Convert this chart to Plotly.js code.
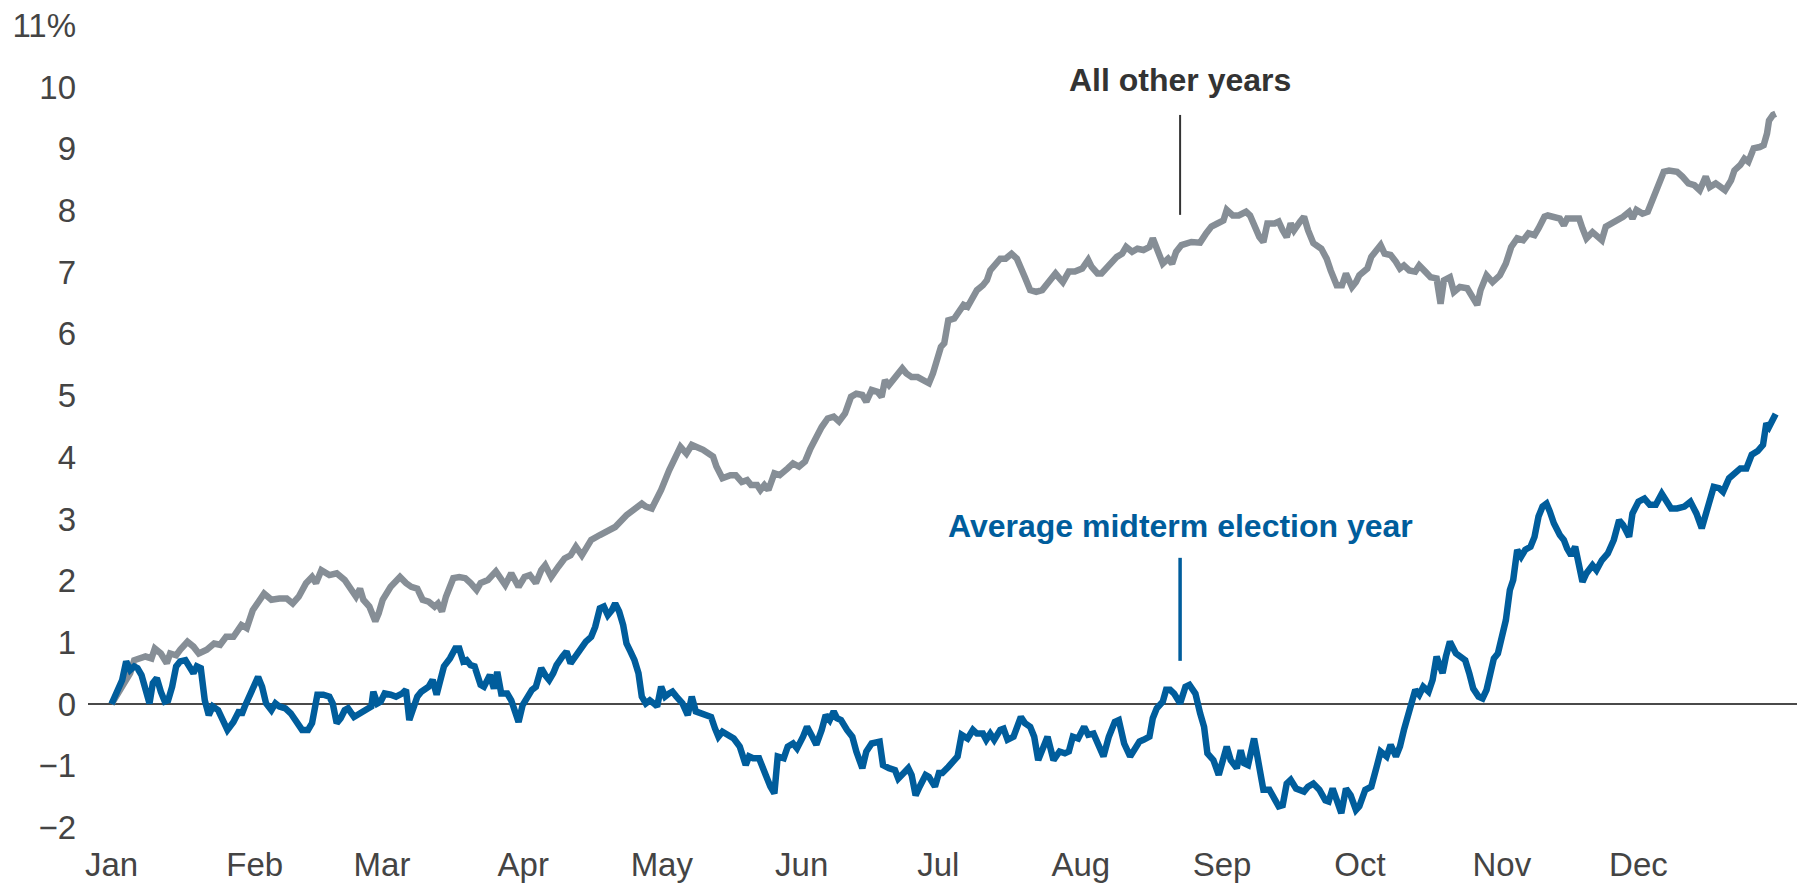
<!DOCTYPE html>
<html>
<head>
<meta charset="utf-8">
<script src="https://cdn.plot.ly/plotly-3.0.1.min.js"></script>
<style>
  html, body { margin: 0; padding: 0; background: #fff; }
  #chart { width: 1803px; height: 886px; }
</style>
</head>
<body>
<div id="chart"></div>
<script>
// Trading-day index (x) and cumulative return in % (y)
const otherDays = [0,1.65,2.8,3.4,5.1,6.0,6.5,7.4,8.3,8.8,9.7,10.3,11.4,12.3,13.1,14.3,15.4,16.3,17.2,18.3,19.5,20.3,21.2,22.9,24.0,25.2,26.3,27.2,28.1,29.2,30.1,30.7,31.5,32.7,33.8,35.0,35.8,36.7,37.3,37.8,38.7,39.6,40.1,40.7,41.9,43.3,44.2,45.0,45.9,46.7,47.6,48.5,49.0,49.6,50.2,51.3,52.2,53.1,53.9,54.8,55.4,56.5,57.7,58.5,59.1,60.0,61.1,62.0,62.8,63.7,64.5,65.1,66.0,67.1,68.0,68.9,69.7,70.6,72.0,73.3,75.6,77.3,79.6,80.2,81.1,82.5,83.7,85.4,86.3,87.1,88.8,90.3,90.8,91.7,92.9,93.7,94.6,95.4,96.0,96.9,97.4,98.0,98.6,99.5,100.3,101.5,102.3,103.2,104.1,104.9,105.8,106.6,107.5,108.4,109.2,110.1,111.0,111.8,112.7,113.3,114.1,115.0,115.6,116.1,116.7,117.6,118.7,119.3,120.1,121.0,121.9,122.7,123.3,123.9,124.5,125.0,125.3,125.6,126.5,127.3,127.9,128.5,129.3,129.9,130.8,131.4,131.9,132.8,133.4,134.2,135.1,135.9,136.5,137.1,137.9,138.8,139.7,140.8,141.7,142.3,142.8,143.7,144.6,145.7,146.6,147.1,148.0,148.6,149.7,150.9,151.7,152.3,153.2,154.0,154.9,155.8,156.3,156.9,157.8,158.6,159.2,159.8,160.6,162.1,163.4,164.3,165.1,166.0,166.9,167.4,168.3,169.2,170.3,170.9,171.5,172.3,172.9,173.5,174.6,175.2,175.8,176.4,177.0,177.5,178.4,179.0,179.6,180.4,181.6,182.4,183.0,183.9,184.7,185.3,186.2,186.8,187.3,188.5,189.1,189.7,190.5,191.1,192.0,192.8,193.4,194.0,194.8,195.7,196.3,197.2,198.0,198.9,199.5,200.0,200.9,201.5,202.4,203.5,204.4,205.0,205.5,206.4,207.3,208.4,209.3,210.1,211.0,211.9,212.7,213.6,214.2,215.1,215.6,216.5,217.4,218.0,218.5,219.4,220.3,220.8,221.4,222.3,223.1,223.7,224.3,225.2,226.0,226.9,227.8,228.3,228.9,229.8,230.6,231.5,232.4,233.0,233.8,235.0,235.8,236.7,237.6,238.4,239.3,239.9,240.8,241.6,242.2,243.1,243.6,244.5,245.1,245.7,246.5,247.4,248.0,248.5,248.8,249.4,249.8];
const otherVals = [0,0.28,0.50,0.71,0.77,0.74,0.90,0.82,0.66,0.82,0.79,0.88,1.01,0.93,0.82,0.88,0.98,0.96,1.09,1.09,1.28,1.23,1.52,1.79,1.69,1.71,1.71,1.63,1.74,1.96,2.06,1.96,2.17,2.09,2.12,2.01,1.90,1.74,1.87,1.69,1.58,1.34,1.47,1.69,1.90,2.06,1.96,1.90,1.87,1.69,1.66,1.58,1.63,1.50,1.74,2.04,2.06,2.04,1.96,1.85,1.96,2.01,2.15,2.01,1.93,2.12,1.90,2.06,2.09,1.96,2.17,2.25,2.06,2.23,2.36,2.41,2.55,2.41,2.66,2.74,2.87,3.06,3.25,3.20,3.17,3.47,3.79,4.17,4.06,4.20,4.12,4.01,3.85,3.66,3.71,3.71,3.60,3.63,3.55,3.55,3.47,3.55,3.47,3.74,3.71,3.82,3.90,3.85,3.93,4.14,4.35,4.49,4.63,4.66,4.58,4.71,4.98,5.03,5.01,4.90,5.09,5.06,4.98,5.25,5.17,5.28,5.44,5.36,5.30,5.30,5.25,5.20,5.36,5.63,5.79,5.85,6.01,6.22,6.25,6.36,6.47,6.44,6.57,6.71,6.79,6.87,7.03,7.17,7.22,7.22,7.30,7.22,7.09,6.92,6.71,6.68,6.71,6.87,6.98,6.90,6.84,7.01,7.01,7.06,7.20,7.09,6.98,6.98,7.11,7.25,7.30,7.41,7.33,7.38,7.36,7.41,7.55,7.38,7.14,7.22,7.14,7.33,7.44,7.49,7.48,7.63,7.74,7.79,7.84,8.01,7.92,7.92,7.98,7.92,7.74,7.57,7.49,7.79,7.79,7.82,7.68,7.57,7.79,7.68,7.82,7.90,7.68,7.47,7.38,7.22,7.03,6.79,6.79,6.98,6.76,6.84,6.95,7.06,7.25,7.33,7.44,7.30,7.28,7.17,7.06,7.11,7.03,7.01,7.11,7.01,6.92,6.90,6.49,6.87,6.92,6.68,6.76,6.74,6.57,6.47,6.71,6.95,6.84,6.95,7.14,7.41,7.55,7.52,7.63,7.60,7.71,7.90,7.92,7.90,7.87,7.76,7.87,7.87,7.87,7.71,7.55,7.65,7.57,7.52,7.74,7.79,7.84,7.90,7.98,7.87,8.01,7.95,7.98,8.22,8.44,8.63,8.65,8.63,8.55,8.44,8.41,8.33,8.55,8.38,8.44,8.38,8.33,8.49,8.65,8.74,8.84,8.79,9.01,9.03,9.06,9.25,9.46,9.55,9.57];

const midDays = [0,1.1,1.6,2.2,2.8,3.4,3.9,4.5,5.1,5.7,6.2,6.8,7.4,8.0,8.5,9.1,9.7,10.3,11.1,11.7,12.3,12.8,13.4,14.0,14.6,15.2,16.0,17.4,18.3,19.2,19.5,20.0,20.6,21.5,22.0,22.6,23.2,24.0,24.6,25.2,26.1,26.9,27.8,28.6,29.5,30.1,30.9,31.8,32.7,33.2,33.8,34.4,35.0,35.5,36.4,37.3,38.1,39.0,39.3,39.9,40.4,41.0,41.9,42.7,43.6,44.2,44.7,45.3,45.9,46.5,47.0,47.6,48.2,48.8,49.3,49.9,50.8,51.6,52.2,52.8,53.3,53.9,54.5,55.4,55.9,56.8,57.4,57.9,58.5,59.4,60.0,60.5,61.1,61.7,62.2,63.1,63.7,64.5,65.1,65.7,66.3,66.8,67.7,68.3,68.9,69.4,70.3,71.2,72.0,72.6,73.3,73.9,74.5,75.1,75.6,76.2,76.8,77.3,77.9,78.5,79.1,79.6,80.2,80.8,81.4,81.9,82.5,83.1,83.7,84.2,84.8,85.7,86.5,87.1,87.7,88.5,90.0,90.6,91.1,91.7,92.6,93.4,94.3,95.2,95.7,96.3,97.2,98.0,98.9,99.5,100.0,100.9,101.5,102.3,102.9,103.8,104.4,105.2,105.8,106.6,107.2,107.8,108.4,108.9,109.5,110.4,111.2,111.8,112.7,113.3,114.1,115.3,115.8,116.7,117.6,118.1,119.0,119.6,120.1,120.7,121.3,122.2,122.7,123.6,124.2,124.7,125.6,126.5,127.0,127.6,128.5,129.3,129.9,130.8,131.3,131.9,132.5,133.4,133.9,134.5,135.4,136.5,137.1,137.9,138.5,139.1,139.7,140.5,141.4,142.3,143.1,143.7,144.3,145.1,146.0,146.6,147.4,148.0,148.9,149.7,150.6,151.2,152.0,152.9,153.8,154.3,154.9,155.8,156.3,156.9,157.8,158.3,158.9,159.5,160.4,161.2,161.8,162.7,163.4,164.0,164.5,165.4,166.2,166.9,167.4,168.0,168.9,169.5,170.0,170.6,171.5,172.0,172.6,172.9,173.8,174.6,175.2,175.8,176.4,177.0,177.8,179.0,179.6,180.4,181.3,182.2,182.7,183.3,183.9,184.6,185.3,186.0,186.8,187.3,188.2,189.1,189.9,190.5,191.4,192.0,192.8,193.4,194.0,194.6,195.1,195.7,196.3,196.9,197.7,198.3,198.9,199.8,200.3,200.9,201.8,202.4,203.2,203.8,204.4,205.2,205.8,206.4,207.0,207.5,208.1,208.7,209.3,209.9,210.4,211.0,211.6,212.2,213.0,213.6,214.2,214.8,215.4,215.9,216.5,217.4,218.0,218.5,219.1,219.7,220.3,220.8,221.4,222.3,222.9,223.7,224.6,225.5,226.3,226.9,227.8,228.3,229.2,230.1,230.9,231.8,232.7,233.2,234.1,235.0,236.1,237.0,237.9,238.7,239.6,240.5,241.3,241.9,242.8,243.6,244.5,245.4,246.2,247.1,247.9,248.4,248.8,249.8];
const midVals = [0,0.23,0.39,0.69,0.55,0.61,0.58,0.47,0.28,0.01,0.34,0.42,0.20,0.04,0.06,0.28,0.61,0.69,0.71,0.61,0.50,0.61,0.58,0.06,-0.18,-0.04,-0.10,-0.42,-0.29,-0.10,-0.18,-0.04,0.12,0.34,0.44,0.28,0.01,-0.10,0.01,-0.04,-0.07,-0.15,-0.29,-0.42,-0.42,-0.31,0.15,0.15,0.12,0.01,-0.31,-0.23,-0.10,-0.07,-0.21,-0.15,-0.10,-0.04,0.20,0.01,0.04,0.17,0.15,0.12,0.17,0.23,-0.26,-0.10,0.12,0.20,0.25,0.28,0.39,0.15,0.36,0.61,0.74,0.90,0.90,0.69,0.71,0.63,0.61,0.31,0.28,0.47,0.25,0.52,0.17,0.17,0.06,-0.07,-0.29,-0.02,0.09,0.23,0.28,0.58,0.47,0.39,0.50,0.63,0.77,0.85,0.66,0.74,0.85,1.01,1.09,1.25,1.55,1.58,1.44,1.52,1.63,1.50,1.28,0.98,0.85,0.71,0.50,0.12,0.01,0.06,0.01,-0.04,0.28,0.12,0.17,0.20,0.12,0.01,-0.18,0.12,-0.12,-0.15,-0.21,-0.40,-0.53,-0.45,-0.50,-0.56,-0.69,-0.99,-0.85,-0.88,-0.88,-1.12,-1.34,-1.45,-0.85,-0.88,-0.69,-0.64,-0.72,-0.53,-0.37,-0.53,-0.66,-0.42,-0.18,-0.26,-0.12,-0.23,-0.26,-0.42,-0.53,-0.77,-1.04,-0.77,-0.64,-0.61,-0.99,-1.04,-1.07,-1.21,-1.10,-1.04,-1.15,-1.48,-1.34,-1.15,-1.18,-1.34,-1.12,-1.12,-1.02,-0.91,-0.85,-0.50,-0.56,-0.42,-0.48,-0.48,-0.58,-0.48,-0.58,-0.42,-0.40,-0.58,-0.53,-0.21,-0.31,-0.37,-0.53,-0.91,-0.77,-0.53,-0.91,-0.77,-0.80,-0.77,-0.53,-0.56,-0.37,-0.50,-0.48,-0.61,-0.85,-0.53,-0.29,-0.26,-0.64,-0.85,-0.72,-0.61,-0.58,-0.53,-0.23,-0.07,0.04,0.23,0.23,0.17,0.01,0.28,0.31,0.17,-0.15,-0.37,-0.80,-0.91,-1.15,-0.83,-0.69,-0.91,-1.04,-0.75,-0.96,-0.99,-0.56,-0.85,-1.18,-1.39,-1.39,-1.56,-1.66,-1.64,-1.29,-1.23,-1.37,-1.42,-1.34,-1.29,-1.39,-1.56,-1.58,-1.37,-1.58,-1.77,-1.37,-1.48,-1.72,-1.66,-1.39,-1.34,-1.02,-0.77,-0.85,-0.66,-0.85,-0.69,-0.42,-0.21,0.01,0.23,0.15,0.28,0.20,0.39,0.77,0.50,0.77,1.01,0.82,0.77,0.71,0.50,0.25,0.12,0.09,0.23,0.50,0.74,0.82,1.15,1.36,1.85,2.01,2.50,2.39,2.50,2.55,2.71,3.04,3.20,3.25,3.12,2.93,2.74,2.66,2.52,2.41,2.55,2.25,1.98,2.12,2.25,2.17,2.33,2.44,2.66,2.98,2.90,2.71,3.09,3.28,3.33,3.23,3.23,3.41,3.33,3.17,3.17,3.20,3.28,3.09,2.85,3.23,3.52,3.50,3.44,3.66,3.74,3.82,3.82,4.04,4.10,4.20,4.55,4.49,4.70];

const monthLabels = ["Jan","Feb","Mar","Apr","May","Jun","Jul","Aug","Sep","Oct","Nov","Dec"];
const monthTickPos = [0,21.5,40.6,61.8,82.6,103.6,124.1,145.5,166.7,187.4,208.7,229.2];
const yTickVals = [-2,-1,0,1,2,3,4,5,6,7,8,9,10,11];
const yTickText = ["\u22122","\u22121","0","1","2","3","4","5","6","7","8","9","10","11%"];

const seriesNames = ["All other years","Average midterm election year"];
const BLUE = "#005d9c";
const GRAY = "#868e96";
const FONT = "'Liberation Sans', Arial, sans-serif";

const traces = [
  { x: otherDays, y: otherVals, type: "scatter", mode: "lines", name: seriesNames[0],
    line: { color: GRAY, width: 6.5, shape: "linear" }, hoverinfo: "skip" },
  { x: midDays, y: midVals, type: "scatter", mode: "lines", name: seriesNames[1],
    line: { color: BLUE, width: 6.5, shape: "linear" }, hoverinfo: "skip" }
];

const layout = {
  width: 1803, height: 886,
  margin: { l: 88, r: 6, t: 7, b: 44 },
  paper_bgcolor: "#ffffff", plot_bgcolor: "#ffffff",
  showlegend: false,
  font: { family: FONT, size: 33, color: "#444444" },
  xaxis: {
    range: [-3.53, 253.0],
    tickmode: "array", tickvals: monthTickPos, ticktext: monthLabels,
    showgrid: false, zeroline: false, showline: false, ticks: "",
    tickfont: { family: FONT, size: 33, color: "#444444" },
    ticklabelstandoff: 0
  },
  yaxis: {
    range: [-2.237, 11.3],
    tickmode: "array", tickvals: yTickVals, ticktext: yTickText,
    showgrid: false, showline: false, ticks: "",
    zeroline: true, zerolinecolor: "#4a4a4a", zerolinewidth: 2,
    tickfont: { family: FONT, size: 33, color: "#444444" },
    ticklabelstandoff: 11
  },
  shapes: [
    { type: "line", xref: "x", yref: "y", x0: 160.4, x1: 160.4, y0: 7.93, y1: 9.55,
      line: { color: "#333333", width: 2 } },
    { type: "line", xref: "x", yref: "y", x0: 160.4, x1: 160.4, y0: 0.70, y1: 2.37,
      line: { color: BLUE, width: 3.5 } }
  ],
  annotations: [
    { xref: "x", yref: "y", x: 160.4, y: 10.11, text: "<b>" + seriesNames[0] + "</b>",
      showarrow: false, xanchor: "center", yanchor: "middle",
      font: { family: FONT, size: 32, color: "#333333" } },
    { xref: "x", yref: "y", x: 160.4, y: 2.88, text: "<b>" + seriesNames[1] + "</b>",
      showarrow: false, xanchor: "center", yanchor: "middle",
      font: { family: FONT, size: 32, color: BLUE } }
  ]
};

Plotly.newPlot("chart", traces, layout, { staticPlot: true, displayModeBar: false });
</script>
</body>
</html>
